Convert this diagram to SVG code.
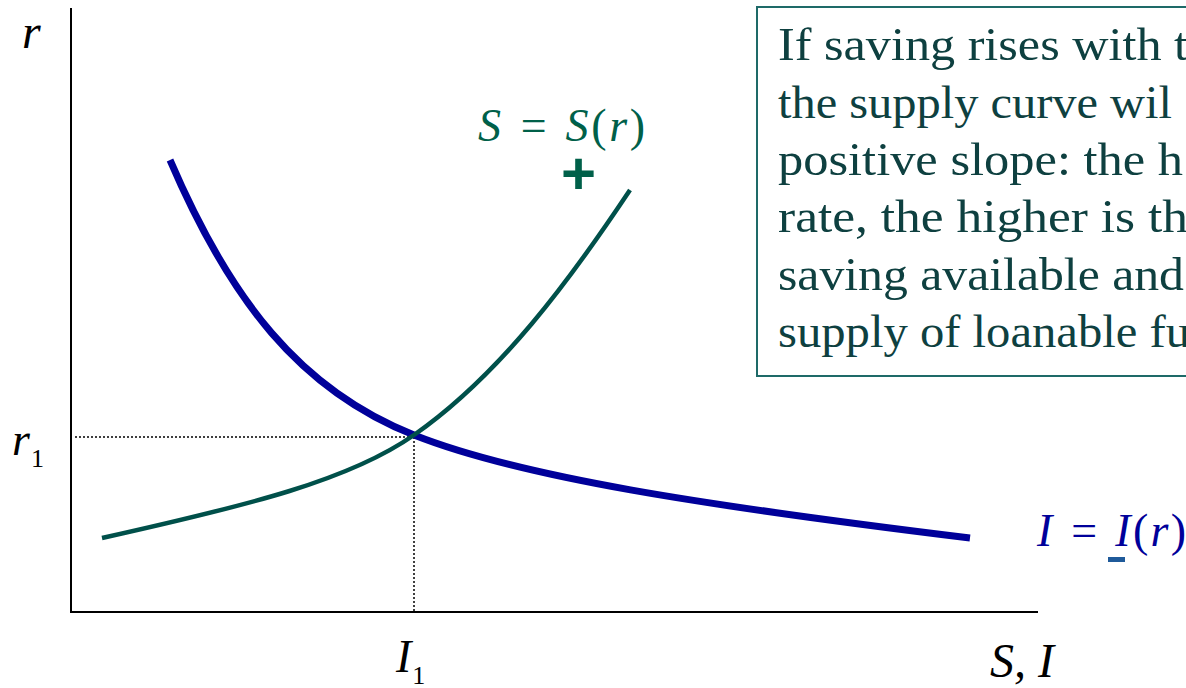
<svg xmlns="http://www.w3.org/2000/svg" width="1186" height="688" viewBox="0 0 1186 688">
<style>
.ax{stroke:#000;stroke-width:2;fill:none}
.dot{stroke:#000;stroke-width:1.5;stroke-dasharray:2 2;fill:none}
.lbl{font-family:"Liberation Serif",serif;font-style:italic}
.up{font-style:normal}
.box{font-family:"Liberation Serif",serif;font-size:47px;fill:#0E4040}
</style>
<rect width="1186" height="688" fill="#fff"/>
<g id="axes">
<line class="ax" x1="71" y1="8" x2="71" y2="613"/>
<line class="ax" x1="70" y1="612" x2="1038" y2="612"/>
</g>
<g id="connectors">
<line class="dot" x1="75" y1="437" x2="414" y2="437"/>
<line class="dot" x1="414" y1="437" x2="414" y2="611"/>
<path id="I-curve" d="M170,160 C230,300 300,390 414,435 C520,477 700,505 970,538" fill="none" stroke="#00009A" stroke-width="7"/>
<path id="S-curve" d="M102,538 C250,505 350,480 414,435 C500,375 570,280 630,190" fill="none" stroke="#00504A" stroke-width="4.5"/>
</g>
<g id="labels">
<text class="lbl" x="22" y="48" font-size="48">r</text>
<text class="lbl" x="12" y="455" font-size="46">r<tspan class="up" font-size="26" dx="1" dy="12">1</tspan></text>
<text class="lbl" x="396" y="672" font-size="46">I<tspan class="up" font-size="26" dx="1" dy="12">1</tspan></text>
<text class="lbl" x="990" y="677" font-size="48">S, I</text>
</g>
<g id="S-label">
<text class="lbl" x="478" y="141" font-size="46" fill="#006049" textLength="167" lengthAdjust="spacing">S = S<tspan class="up">(</tspan>r<tspan class="up">)</tspan></text>
<text x="561" y="194" font-family="Liberation Sans,sans-serif" font-weight="bold" font-size="60" fill="#006049">+</text>
</g>
<g id="I-label">
<text class="lbl" x="1037" y="546" font-size="46" fill="#00009A" textLength="149" lengthAdjust="spacing">I = I<tspan class="up">(</tspan>r<tspan class="up">)</tspan></text>
<rect x="1108" y="557" width="17" height="5" fill="#1F5A9A"/>
</g>
<g id="note">
<rect x="757" y="7" width="440" height="369" fill="#fff" stroke="#1E6A68" stroke-width="2"/>
<text class="box" x="778" y="60" textLength="410" lengthAdjust="spacingAndGlyphs">If saving rises with t</text>
<text class="box" x="778" y="118" textLength="394" lengthAdjust="spacingAndGlyphs">the supply curve wil</text>
<text class="box" x="778" y="175" textLength="405" lengthAdjust="spacingAndGlyphs">positive slope: the h</text>
<text class="box" x="778" y="232" textLength="410" lengthAdjust="spacingAndGlyphs">rate, the higher is th</text>
<text class="box" x="778" y="290" textLength="406" lengthAdjust="spacingAndGlyphs">saving available and</text>
<text class="box" x="778" y="347" textLength="412" lengthAdjust="spacingAndGlyphs">supply of loanable fu</text>
</g>
</svg>
